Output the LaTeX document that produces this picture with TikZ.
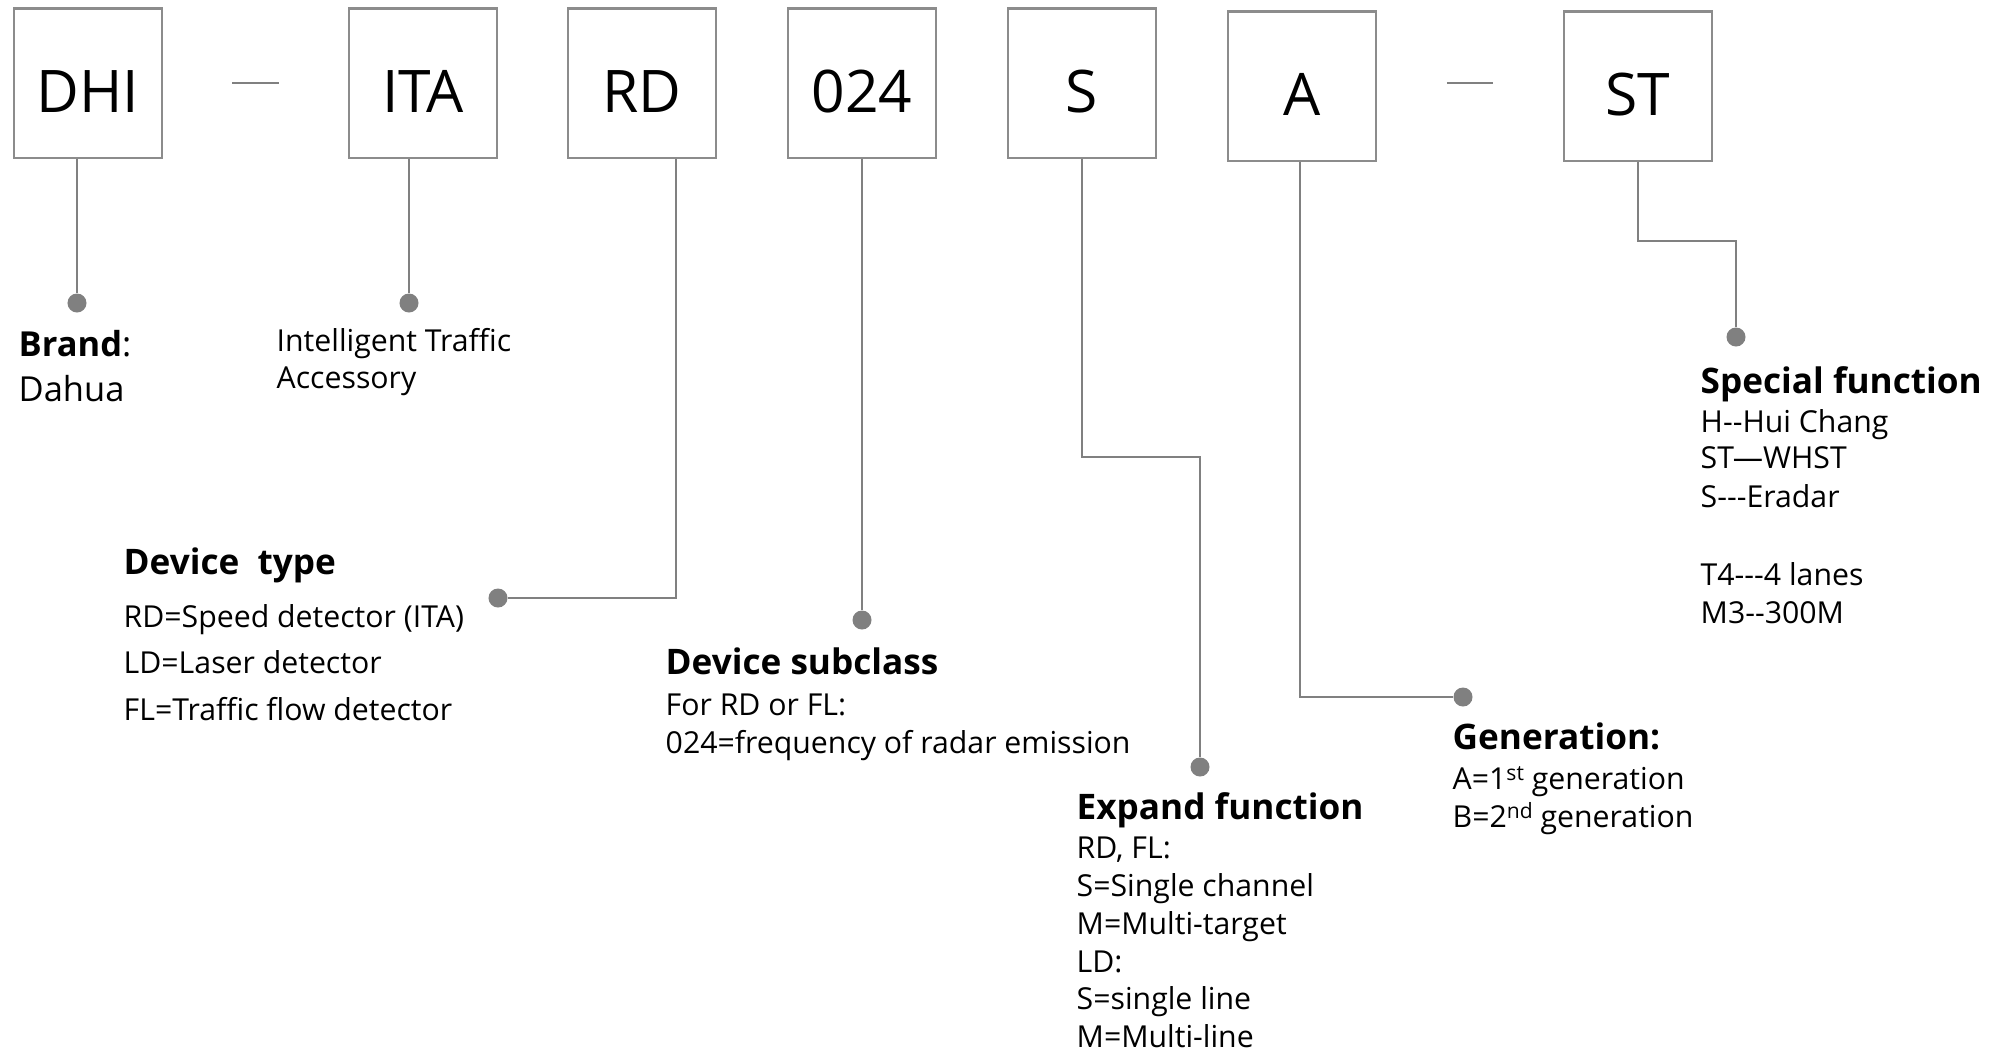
\documentclass[tikz,border=0pt]{standalone}
\usepackage{fontspec}
\setmainfont{Open Sans}
\usetikzlibrary{calc}

\definecolor{boxgray}{RGB}{140,140,140}
\definecolor{leadgray}{RGB}{128,128,128}
\newcommand{\hy}{\mbox{-}}
\newcommand{\sups}[1]{\raisebox{0.55ex}{\fontsize{6}{7}\selectfont #1}}

\tikzset{
  codebox/.style={draw=boxgray, line width=0.6pt, minimum width=1.48cm, minimum height=1.49cm,
    inner sep=0pt, text height=0.58cm, text depth=0pt, font=\fontsize{16.7}{20}\selectfont},
  lead/.style={draw=leadgray, line width=0.6pt},
  pin/.style={circle, fill=leadgray, inner sep=0pt, minimum size=0.19cm},
  head/.style={anchor=base west, inner sep=0pt, font=\fontsize{10}{12}\selectfont\bfseries},
  item/.style={anchor=base west, inner sep=0pt, font=\fontsize{8.6}{10.8}\selectfont},
  brandtxt/.style={anchor=base west, inner sep=0pt, font=\fontsize{9.8}{12}\selectfont},
}

\begin{document}
\begin{tikzpicture}[x=0.01cm, y=-0.01cm]
\useasboundingbox (0,0) rectangle (1993,1053);

    \node[codebox] (dhi) at (88,83) {DHI};
    \node[codebox] (ita) at (423,83) {ITA};
    \node[codebox] (rd) at (642,83) {RD};
    \node[codebox] (c024) at (862,83) {024};
    \node[codebox] (s) at (1082,83) {S};
    \node[codebox] (a) at (1302,86) {A};
    \node[codebox] (st) at (1638,86) {ST};

\draw[lead] ($(dhi.east)!0.375!(ita.west)$) -- ($(dhi.east)!0.625!(ita.west)$);
\draw[lead] ([yshift=0.03cm]$(a.east)!0.375!(st.west)$) -- ([yshift=0.03cm]$(a.east)!0.625!(st.west)$);

\node[pin] (pdhi) at (77,303) {};
\node[pin] (pita) at (409,303) {};
\node[pin] (prd) at (498,598) {};
\node[pin] (p024) at (862,620) {};
\node[pin] (ps) at (1200,767) {};
\node[pin] (pa) at (1463,697) {};
\node[pin] (pst) at (1736,337) {};
\coordinate (sbend) at (1200,457);
\coordinate (stbend) at (1736,241);

\draw[lead] (pdhi |- dhi.south) -- (pdhi);
\draw[lead] (pita |- ita.south) -- (pita);
\draw[lead] ([xshift=0.34cm]rd.south) |- (prd);
\draw[lead] (c024.south) -- (p024);
\draw[lead] (s.south) |- (sbend) -- (ps);
\draw[lead] ([xshift=-0.02cm]a.south) |- (pa);
\draw[lead] (st.south) |- (stbend) -- (pst);

    \node[brandtxt] (brand) at (18,356) {\textbf{Brand}:};
    \node[brandtxt] (dahua) at (18,401) {Dahua};

    \node[item] (ita1) at (276,351) {Intelligent Traffic};
    \node[item] (ita2) at (276,388) {Accessory};

    \node[head] (typehead) at (123,574) {Device\ \ type};
    \node[item] (type1) at (123,627) {RD=Speed detector (ITA)};
    \node[item] (type2) at (123,673) {LD=Laser detector};
    \node[item] (type3) at (123,720) {FL=Traffic flow detector};

    \node[head] (subhead) at (665,674) {Device subclass};
    \node[item] (sub1) at (665,715) {For RD or FL:};
    \node[item] (sub2) at (665,753) {024=frequency of radar emission};

    \node[head] (exphead) at (1076,819) {Expand function};
    \node[item] (exp1) at (1076,858) {RD, FL:};
    \node[item] (exp2) at (1076,896) {S=Single channel};
    \node[item] (exp3) at (1076,934) {M=Multi\hy target};
    \node[item] (exp4) at (1076,972) {LD:};
    \node[item] (exp5) at (1076,1009) {S=single line};
    \node[item] (exp6) at (1076,1047) {M=Multi\hy line};

    \node[head] (genhead) at (1452,749) {Generation:};
    \node[item] (gen1) at (1452,789) {A=1\sups{st} generation};
    \node[item] (gen2) at (1452,827) {B=2\sups{nd} generation};

    \node[head] (spechead) at (1700,393) {Special function};
    \node[item] (spec1) at (1700,432) {H\hy\hy Hui Chang};
    \node[item] (spec2) at (1700,468) {ST—WHST};
    \node[item] (spec3) at (1700,507) {S\hy\hy\hy Eradar};
    \node[item] (spec4) at (1700,585) {T4\hy\hy\hy 4 lanes};
    \node[item] (spec5) at (1700,623) {M3\hy\hy 300M};
\end{tikzpicture}
\end{document}
